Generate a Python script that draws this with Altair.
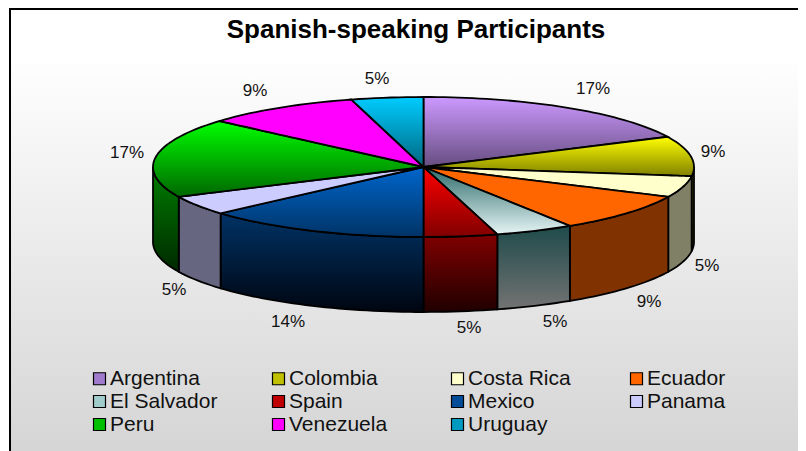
import numpy as np
import pandas as pd
import altair as alt

# ---- values ----
title_text = "Spanish-speaking Participants"
countries = ["Argentina", "Colombia", "Costa Rica", "Ecuador", "El Salvador", "Spain",
             "Mexico", "Panama", "Peru", "Venezuela", "Uruguay"]
# angular share of each slice as drawn (%), clockwise from 12 o'clock
slice_share = [17.9, 9.2, 4.9, 8.9, 4.7, 4.4, 13.5, 4.5, 18.4, 9.3, 4.3]
# the percentages printed next to the slices
printed_pct = ["17%", "9%", "5%", "9%", "5%", "5%", "14%", "5%", "17%", "9%", "5%"]

# ---- styling ----
top_stops = [("#CC99FF", "#664D80"), ("#FFFF00", "#808000"), ("#FFFFCC", "#FFFFCC"),
             ("#FF6600", "#FF6600"), ("#2D6A6A", "#E6F5F5"), ("#FF0000", "#800000"),
             ("#0066CC", "#003366"), ("#CCCCFF", "#CCCCFF"), ("#00FF00", "#006600"),
             ("#FF00FF", "#FF00FF"), ("#00CCFF", "#00667F")]
wall_stops = [("#664D80", "#332640"), ("#808000", "#404000"), ("#808066", "#808066"),
              ("#803300", "#803300"), ("#1F4A4A", "#737373"), ("#800000", "#200000"),
              ("#003366", "#000510"), ("#666680", "#666680"), ("#008000", "#002800"),
              ("#800080", "#400040"), ("#006680", "#003340")]
legend_colors = ["#A07ACC", "#C0C000", "#FFFFCC", "#FF6600", "#A0CCCC", "#C00000",
                 "#004C99", "#CCCCFF", "#00C000", "#FF00FF", "#0099C0"]
# label centres in the chart's pixel space (layout, not data)
label_px = [585, 705, 699, 641, 547, 461, 280, 166, 119, 247, 369]
label_py = [81, 144, 258, 294, 314, 320, 314, 282, 145, 83, 71]

W, H = 790, 443
CX, CY, RX, RY, DEPTH = 415.5, 159.0, 270.5, 70.0, 75.0
x_dom = [(0 - CX) / RX, (W - CX) / RX]
y_dom = [(CY - H) / RY, CY / RY]
depth = DEPTH / RY

x_enc = alt.X("x:Q", axis=None, scale=alt.Scale(domain=x_dom, nice=False, zero=False))
y_enc = alt.Y("y:Q", axis=None, scale=alt.Scale(domain=y_dom, nice=False, zero=False))


def gradient(pair):
    if pair[0] == pair[1]:
        return pair[0]
    return alt.LinearGradient(gradient="linear", x1=0, y1=0, x2=0, y2=1,
                              stops=[alt.GradientStop(offset=0, color=pair[0]),
                                     alt.GradientStop(offset=1, color=pair[1])])


def wedge_rows(t0, t1):
    """Sector of the unit circle as vertical spans, so an area mark can fill it."""
    ts = np.linspace(t0, t1, max(4, int((t1 - t0) * 40)))
    poly = [(0.0, 0.0)] + [(float(np.sin(t)), float(np.cos(t))) for t in ts]
    edges = list(zip(poly, poly[1:] + poly[:1]))
    rows = []
    for x in sorted({round(p[0], 7) for p in poly}):
        hits = []
        for (xa, ya), (xb, yb) in edges:
            xa, xb = round(xa, 7), round(xb, 7)
            if min(xa, xb) <= x <= max(xa, xb):
                if xa == xb:
                    hits += [ya, yb]
                else:
                    hits.append(ya + (yb - ya) * (x - xa) / (xb - xa))
        rows.append({"x": x, "y": max(hits), "y2": min(hits)})
    return pd.DataFrame(rows)


def wall_rows(t0, t1):
    a, b = max(t0, np.pi / 2), min(t1, 3 * np.pi / 2)
    if b <= a:
        return None
    ts = np.linspace(a, b, max(4, int((b - a) * 40)))
    df = pd.DataFrame({"x": np.sin(ts), "y": np.cos(ts)})
    df["y2"] = df["y"] - depth
    return df.sort_values("x")


edges_t = np.concatenate([[0], np.cumsum(slice_share)]) / sum(slice_share) * 2 * np.pi

backdrop = alt.Chart(pd.DataFrame({"a": [0]})).mark_rect(
    fill=alt.LinearGradient(gradient="linear", x1=0, y1=0, x2=0, y2=1,
                            stops=[alt.GradientStop(offset=0, color="#FFFFFF"),
                                   alt.GradientStop(offset=0.1, color="#FFFFFF"),
                                   alt.GradientStop(offset=1, color="#D4D4D4")]),
    stroke="black", strokeWidth=2,
).encode(x=alt.value(2), x2=alt.value(W + 10), y=alt.value(1), y2=alt.value(H + 10))

layers = [backdrop]
for i in range(len(countries)):
    w = wall_rows(edges_t[i], edges_t[i + 1])
    if w is not None:
        layers.append(alt.Chart(w).mark_area(
            fill=gradient(wall_stops[i]), stroke="black", strokeWidth=1.8
        ).encode(x=x_enc, y=y_enc, y2="y2:Q"))
for i in range(len(countries)):
    layers.append(alt.Chart(wedge_rows(edges_t[i], edges_t[i + 1])).mark_area(
        fill=gradient(top_stops[i]), stroke="black", strokeWidth=1.8
    ).encode(x=x_enc, y=y_enc, y2="y2:Q"))

labels = pd.DataFrame({"lx": label_px, "ly": label_py, "pct": printed_pct})
layers.append(alt.Chart(labels).mark_text(
    font="Liberation Sans", fontSize=17, color="#111111"
).encode(x=alt.X("lx:Q", scale=None, axis=None), y=alt.Y("ly:Q", scale=None, axis=None), text="pct:N"))

legend_layer = alt.Chart(pd.DataFrame({"country": countries})).mark_square(size=0).encode(
    x=alt.value(-20), y=alt.value(-20),
    color=alt.Color("country:N", sort=countries,
                    scale=alt.Scale(domain=countries, range=legend_colors),
                    legend=alt.Legend(
                        title=None, orient="none", legendX=81, legendY=360, columns=4,
                        direction="horizontal",
                        gridAlign="all", columnPadding=50, rowPadding=1,
                        symbolType="square", symbolSize=144, symbolStrokeColor="black",
                        symbolStrokeWidth=1.2, symbolOpacity=1, labelOpacity=1,
                        labelFont="Liberation Sans", labelFontSize=21, labelColor="#111111",
                        labelOffset=0, labelLimit=300)))
layers.append(legend_layer)

chart = alt.layer(*layers).properties(
    width=W, height=H, padding=0,
    autosize=alt.AutoSizeParams(type="none"),
    title=alt.TitleParams(title_text, font="Liberation Sans", fontSize=26, fontWeight="bold",
                          color="black", anchor="middle", dx=13, dy=55, offset=0),
).configure_view(stroke=None)

chart.save("out.html", embed_options={"renderer": "svg", "actions": False})
